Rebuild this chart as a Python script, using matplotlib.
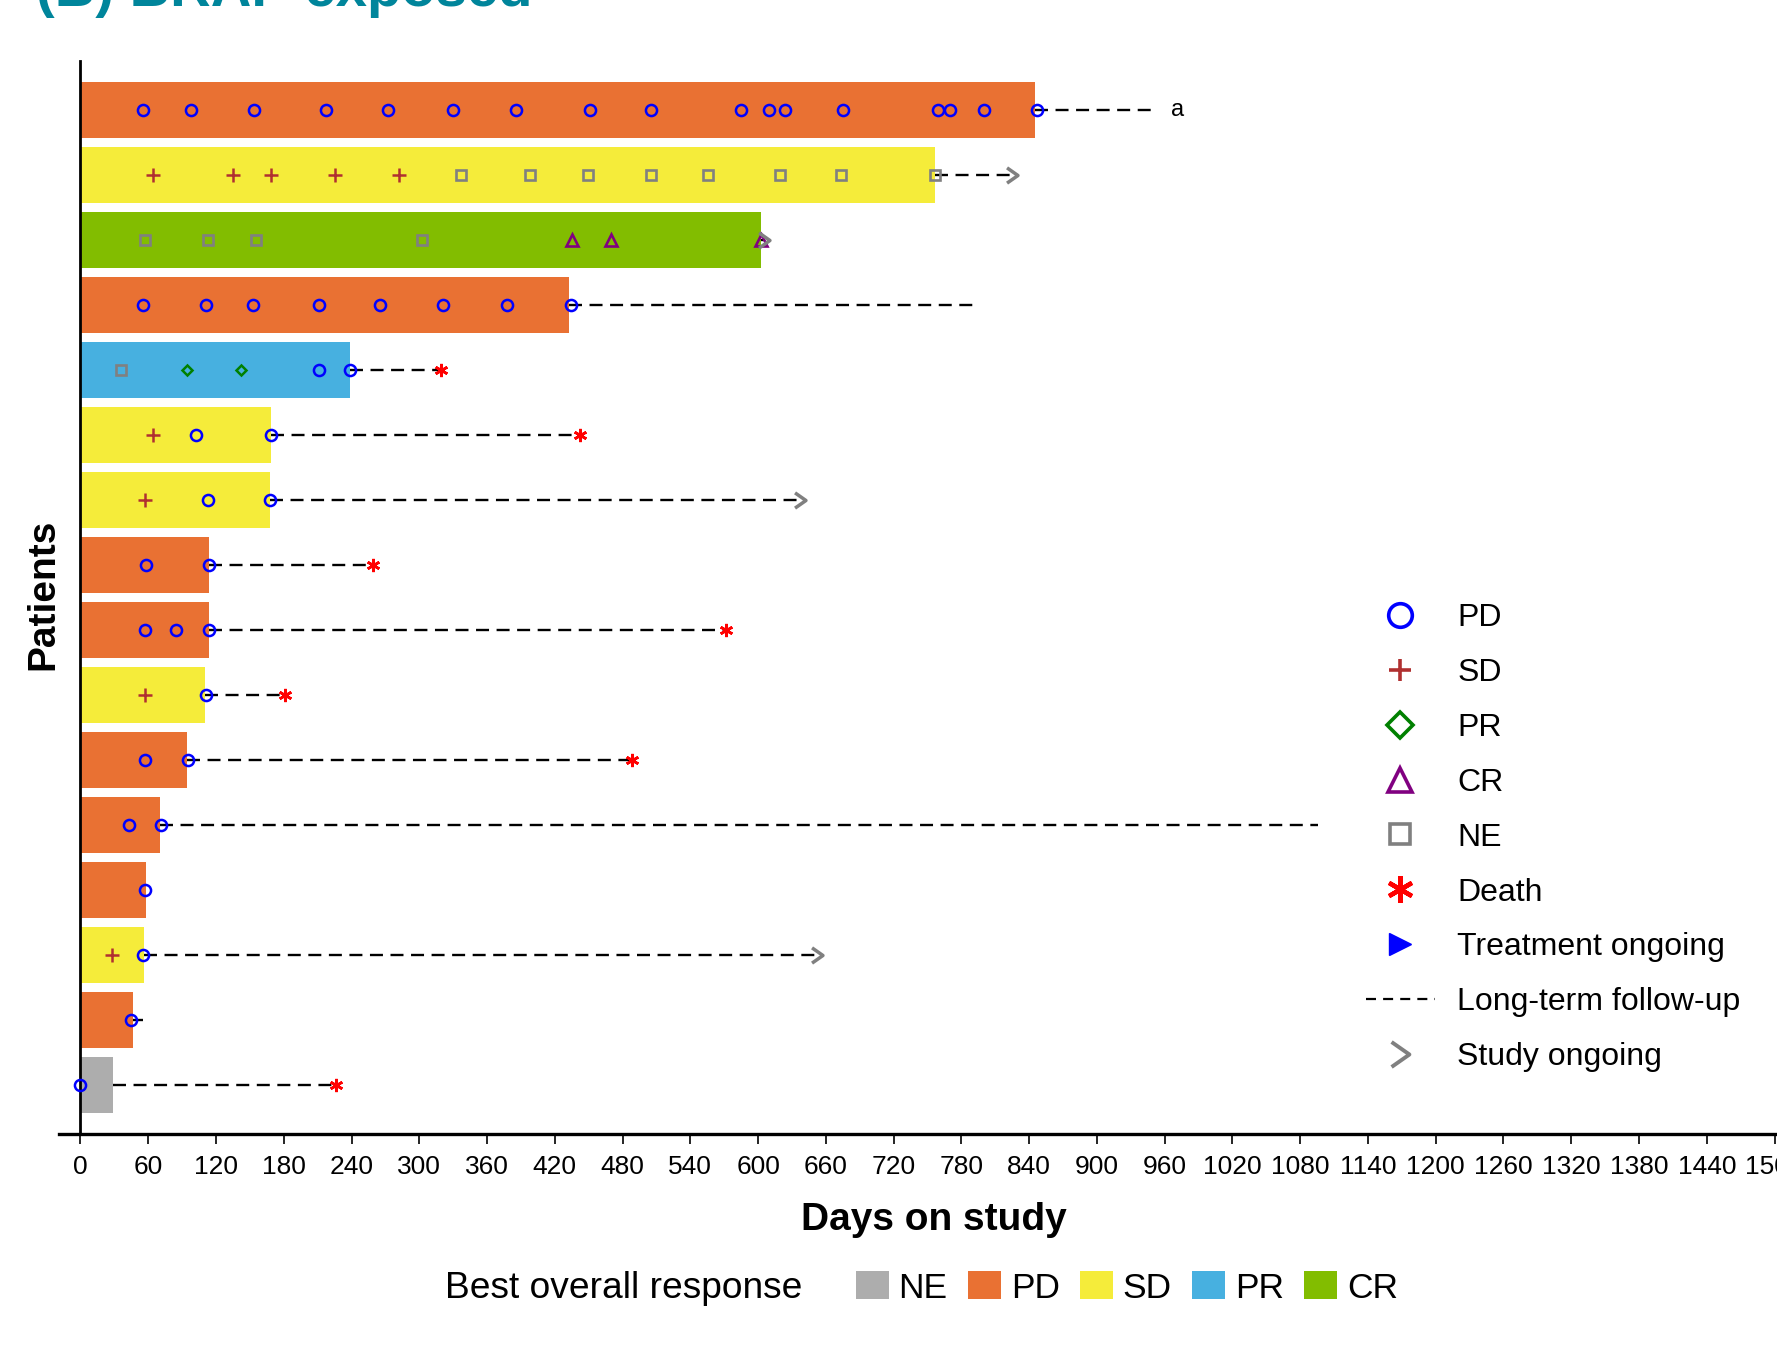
import matplotlib
matplotlib.use("Agg")
import matplotlib.pyplot as plt
from matplotlib.lines import Line2D
from matplotlib.patches import Patch
from matplotlib.path import Path

plt.rcParams['font.family'] = ['Liberation Sans', 'DejaVu Sans']

# one row per patient, top to bottom
best = ['PD', 'SD', 'CR', 'PD', 'PR', 'SD', 'SD', 'PD', 'PD', 'SD', 'PD', 'PD', 'PD', 'SD', 'PD', 'NE']
treat_end = [845, 757, 603, 433, 239, 169, 168, 113.5, 113.5, 110.7, 94.7, 70.8, 57.6, 56.6, 46.4, 28.6]
followup_end = [952, 825, 605, 790, 319, 442, 637, 259, 572, 181, 488, 1096, None, 652, 55.5, 226]

pd_days = [
    [55, 98, 154, 217, 272, 330, 386, 451, 505, 585, 610, 624, 675, 759, 770, 800, 847],
    [], [],
    [55, 111, 153, 211, 265, 321, 378, 434],
    [211, 239], [102, 169], [113, 168], [58, 114], [57, 85, 114], [111],
    [57, 95], [43, 71], [57], [55], [45], [0],
]
sd_days = {1: [64, 135, 169, 225, 282], 5: [64], 6: [57], 9: [57], 13: [28]}
pr_days = {4: [94, 142]}
cr_days = {2: [435, 470, 603]}
ne_days = {1: [337, 398, 449, 505, 556, 619, 673, 757], 2: [57, 113, 155, 302], 4: [36]}
death_rows = [4, 5, 7, 8, 9, 10, 15]
ongoing_rows = [1, 2, 6, 13]

resp_order = ['NE', 'PD', 'SD', 'PR', 'CR']
resp_colors = {'NE': '#ADADAD', 'PD': '#E97133', 'SD': '#F5EC3A', 'PR': '#47B0E0', 'CR': '#82BD00'}

chevron = Path([(-0.5, 0.7), (0.5, 0.0), (-0.5, -0.7)],
               [Path.MOVETO, Path.LINETO, Path.LINETO])

fig = plt.figure(figsize=(17.77, 13.58), dpi=100)
ax = fig.add_axes([0.0332, 0.1649, 0.9668, 0.7902])

rows = list(range(len(best)))
ax.barh(rows, treat_end, height=0.85, left=0,
        color=[resp_colors[b] for b in best], zorder=1)

# long-term follow-up
for i in rows:
    if followup_end[i] is not None:
        ax.plot([treat_end[i], followup_end[i]], [i, i], color='black', lw=1.7,
                dashes=(5.5, 3.2), zorder=2)

mk = dict(linestyle='none', zorder=4)
for i in rows:
    if pd_days[i]:
        ax.plot(pd_days[i], [i] * len(pd_days[i]), marker='o', ms=8, mfc='none',
                mec='#0000FF', mew=1.8, **mk)
for i, d in sd_days.items():
    ax.plot(d, [i] * len(d), marker='+', ms=10, color='#B03030', mew=1.8, **mk)
for i, d in pr_days.items():
    ax.plot(d, [i] * len(d), marker='D', ms=5.5, mfc='none', mec='#008000', mew=1.8, **mk)
for i, d in cr_days.items():
    ax.plot(d, [i] * len(d), marker='^', ms=8, mfc='none', mec='#800080', mew=1.9, **mk)
for i, d in ne_days.items():
    ax.plot(d, [i] * len(d), marker='s', ms=7, mfc='none', mec='#808080', mew=1.9, **mk)
for i in death_rows:
    ax.plot([followup_end[i]], [i], marker=(6, 2, 0), ms=9.5, color='#FF0000', mew=1.9, **mk)
for i in ongoing_rows:
    ax.plot([followup_end[i]], [i], marker=chevron, ms=11, mfc='none', mec='#808080',
            mew=2.5, **mk)

ax.text(966, 0, 'a', va='center', ha='left', fontsize=17)

ax.set_xlim(-19, 1502.2)
ax.set_ylim(15.754, -0.754)
ax.set_xticks(range(0, 1501, 60))
ax.tick_params(axis='x', length=7, width=1.2, labelsize=19, pad=8)
ax.set_yticks([])
ax.spines['top'].set_visible(False)
ax.spines['right'].set_visible(False)
ax.spines['left'].set_position(('data', 0))
ax.spines['left'].set_linewidth(2)
ax.spines['bottom'].set_linewidth(2.4)

fig.text(934 / 1777, 1 - 1220 / 1358, 'Days on study', ha='center', va='center',
         fontsize=28, fontweight='bold')
fig.text(43 / 1777, 1 - 594 / 1358, 'Patients', ha='center', va='center',
         rotation=90, fontsize=28, fontweight='bold')
fig.text(36 / 1777, 1 - 6 / 1358, '(B) BRAF-exposed', ha='left', va='baseline',
         fontsize=40.5, fontweight='bold', color='#00859B')

# symbol legend
handles = [
    Line2D([], [], ls='none', marker='o', ms=17, mfc='none', mec='#0000FF', mew=2.6),
    Line2D([], [], ls='none', marker='+', ms=16, color='#B03030', mew=2.6),
    Line2D([], [], ls='none', marker='D', ms=13, mfc='none', mec='#008000', mew=2.6),
    Line2D([], [], ls='none', marker='^', ms=17, mfc='none', mec='#800080', mew=2.6),
    Line2D([], [], ls='none', marker='s', ms=15, mfc='none', mec='#808080', mew=2.6),
    Line2D([], [], ls='none', marker=(6, 2, 0), ms=19, color='#FF0000', mew=3.2),
    Line2D([], [], ls='none', marker='>', ms=16, color='#0000FF'),
    Line2D([], [], color='black', lw=1.6, dashes=(4.5, 3.2)),
    Line2D([], [], ls='none', marker=chevron, ms=18, mfc='none', mec='#808080', mew=2.8),
]
labels = ['PD', 'SD', 'PR', 'CR', 'NE', 'Death', 'Treatment ongoing',
          'Long-term follow-up', 'Study ongoing']
fig.legend(handles, labels, loc='upper left', bbox_to_anchor=(1366 / 1777, 1 - 603 / 1358),
           frameon=False, fontsize=23, handlelength=2.15, handletextpad=0.7,
           labelspacing=0.78, borderpad=0, borderaxespad=0)

# best overall response legend
fig.text(445 / 1777, 1 - 1288 / 1358, 'Best overall response', ha='left', va='center',
         fontsize=26.7)
patches = [Patch(facecolor=resp_colors[r], edgecolor='none') for r in resp_order]
fig.legend(patches, resp_order, loc='center left', bbox_to_anchor=(856 / 1777, 1 - 1288 / 1358),
           ncol=5, frameon=False, fontsize=25.5, handlelength=0.93, handleheight=0.82,
           handletextpad=0.27, columnspacing=0.58, borderpad=0, borderaxespad=0)

fig.savefig('out.png', dpi=100)
